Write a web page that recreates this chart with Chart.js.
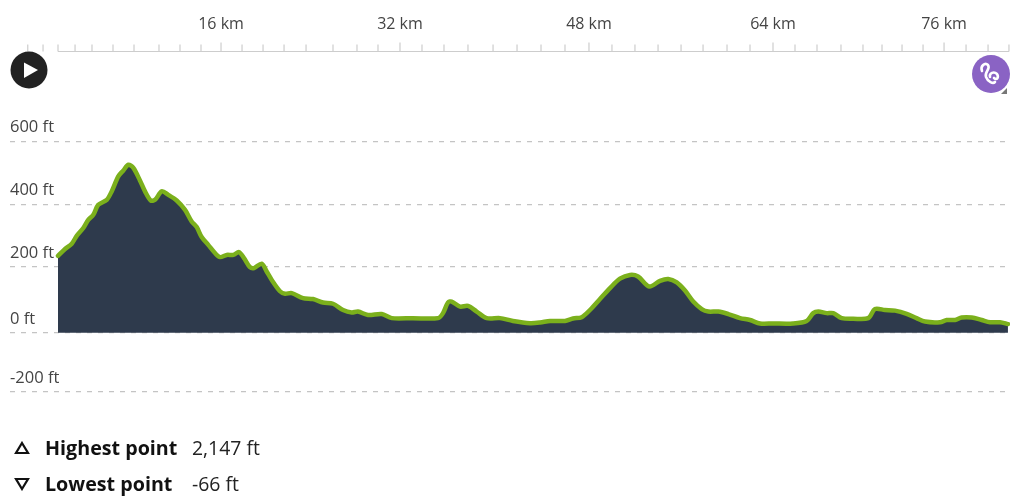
<!DOCTYPE html>
<html>
<head>
<meta charset="utf-8">
<script src="https://cdn.jsdelivr.net/npm/chart.js@4"></script>
<style>
  html, body { margin: 0; padding: 0; background: #fff; }
  body { width: 1024px; height: 502px; position: relative; overflow: hidden; font-family: "Open Sans", sans-serif; color: #222; }
  #chart { position: absolute; left: 0; top: 0; }
  svg { position: absolute; }
  .stat { position: absolute; font-size: 19.4px; line-height: 26px; white-space: nowrap; }
  .stat b { color: #111; font-size: 19.7px; }
</style>
</head>
<body>
<canvas id="chart" width="1024" height="502"></canvas>

<svg style="left:10px;top:51px" width="38" height="38" viewBox="0 0 38 38">
  <circle cx="19" cy="19" r="18.5" fill="#222"/>
  <path d="M14 11.5 L28 19 L14 27 Z" fill="#fff"/>
</svg>
<svg style="left:970px;top:53px" width="40" height="42" viewBox="0 0 40 42">
  <circle cx="21" cy="21" r="19" fill="#8a63c4"/>
  <path d="M12 18 C10 13 15 9 18 12 C21 16 14 19 16 24 C18 29 23 31 25 29 M20 24 C19 20 24 18 27 21 C29 24 27 28 24 25" fill="none" stroke="#fff" stroke-width="2.6" stroke-linecap="round"/>
  <path d="M37 35 L37 41 L31 41 Z" fill="#777"/>
</svg>

<svg style="left:14px;top:441px" width="16" height="14" viewBox="0 0 16 14">
  <path d="M8 2 L14 12 L2 12 Z" fill="none" stroke="#111" stroke-width="2.2"/>
</svg>
<svg style="left:14px;top:477px" width="16" height="14" viewBox="0 0 16 14">
  <path d="M8 12 L14 2 L2 2 Z" fill="none" stroke="#111" stroke-width="2.2"/>
</svg>
<div class="stat" style="left:45px;top:435px"><b>Highest point</b></div>
<div class="stat" style="left:192px;top:435px">2,147 ft</div>
<div class="stat" style="left:45px;top:471px"><b>Lowest point</b></div>
<div class="stat" style="left:192px;top:471px">-66 ft</div>

<script>
const distanceKm = [
  0, 0.64, 1.25, 1.7, 2.3, 2.75, 3.21, 3.66, 4.43, 4.88, 5.48, 5.94, 6.39, 6.85,
  7.45, 7.91, 8.43, 8.82, 9.43, 10.03, 10.79, 11.55, 12.15, 12.61, 13.06, 13.66,
  14.27, 14.73, 15.34, 15.94, 16.45, 16.91, 17.45, 17.82, 18.52, 18.97, 19.43,
  20.18, 20.64, 21.25, 22.27, 23.18, 24.09, 25, 25.91, 26.7, 27.27, 28.18, 29.43,
  30.34, 32.27, 34.55, 35, 35.45, 35.79, 36.55, 37.27, 38.06, 38.97, 40.18, 41.36,
  42.91, 43.82, 44.73, 46.09, 46.82, 47.61, 48.36, 49.27, 50.18, 51.09, 52, 52.73,
  53.75, 54.73, 55.48, 56.25, 57, 57.75, 58.52, 59.12, 60.03, 60.94, 62, 62.91,
  63.82, 65, 66.82, 68.06, 68.66, 69.12, 69.88, 70.48, 71.25, 72.3, 73.66, 74.27,
  75.18, 76.09, 77.15, 78.05, 78.82, 80.18, 80.79, 81.55, 82.15, 83.06, 83.97,
  84.73, 85.64, 86.36,
];

const elevationFt = [
  235, 257, 274, 299, 324, 350, 366, 398, 414, 441, 489, 508, 526, 516,
  476, 441, 412, 414, 441, 430, 412, 382, 345, 327, 295, 270,
  244, 231, 238, 238, 247, 228, 199, 196, 210, 185, 158,
  122, 114, 116, 100, 97, 86, 82, 62, 54, 57, 46, 49,
  36, 36, 36, 52, 86, 89, 73, 75, 57, 36, 36, 27,
  20, 22, 27, 27, 35, 39, 62, 97, 132, 162, 174, 169,
  137, 155, 161, 150, 124, 89, 65, 57, 57, 49, 36, 30,
  19, 19, 19, 27, 52, 57, 52, 52, 36, 34, 36, 65,
  62, 60, 50, 36, 25, 23, 30, 30, 38, 38, 30,
  23, 23, 17,
];

// tick marks on the distance ruler
const rulerKm = [
  -2.75, -1.36, 0, 1.55, 3.09, 5, 6.91, 9.18, 11.09, 13, 14.82, 16.73, 18.64,
  20.55, 22.55, 25, 27.18, 29.09, 31.09, 33.09, 35.09, 37.27, 39.55, 41.73,
  43.91, 46.09, 48.27, 50.36, 52.45, 54.55, 56.64, 58.64, 60.82, 62.91, 65, 67,
  69, 71.18, 73.18, 74.91, 76.73, 78.64, 80.55, 82.55, 84.55, 86.45,
];
const rulerMajorKm = [14.82, 31.09, 48.27, 65, 80.55];
const rulerLabels = ["16 km", "32 km", "48 km", "64 km", "76 km"];

const gridFt = [600, 400, 200, -11, -200];
const gridLabels = ["600 ft", "400 ft", "200 ft", "0 ft", "-200 ft"];

// draws the ruler marks and its line, short ones and taller major ones
const ruler = {
  id: "ruler",
  afterDraw(chart) {
    const x = chart.scales.x;
    const top = chart.chartArea.top;
    const c = chart.ctx;
    c.save();
    c.strokeStyle = "#cdcdcd";
    c.lineWidth = 1.2;
    c.beginPath();
    c.moveTo(x.getPixelForValue(0), top);
    c.lineTo(x.getPixelForValue(86.45), top);
    rulerKm.forEach((km) => {
      const px = x.getPixelForValue(km);
      c.moveTo(px, top);
      c.lineTo(px, top - (rulerMajorKm.includes(km) ? 9 : 7));
    });
    c.stroke();
    c.restore();
  },
};

new Chart(document.getElementById("chart"), {
  type: "line",
  data: {
    datasets: [
      {
        data: distanceKm.map((km, i) => ({ x: km, y: elevationFt[i] })),
        borderColor: "#7bb01c",
        borderWidth: 4.5,
        borderCapStyle: "round",
        backgroundColor: "#2e3a4c",
        fill: { value: -11 },
        tension: 0.3,
        pointRadius: 0,
      },
    ],
  },
  options: {
    responsive: false,
    animation: false,
    layout: { padding: { left: 10, right: 14, top: 0, bottom: 102 } },
    plugins: { legend: { display: false }, tooltip: { enabled: false } },
    scales: {
      x: {
        type: "linear",
        position: "top",
        min: -4.364,
        max: 86.545,
        afterBuildTicks(axis) {
          axis.ticks = rulerMajorKm.map((v) => ({ value: v }));
        },
        afterFit(axis) {
          axis.height = 51.5;
        },
        border: { display: false },
        grid: { display: false, drawTicks: false },
        ticks: {
          autoSkip: false,
          maxRotation: 0,
          padding: 17,
          color: "#444",
          font: { family: "Open Sans", size: 16 },
          callback: (v) => rulerLabels[rulerMajorKm.indexOf(v)],
        },
      },
      y: {
        min: -225.6,
        max: 888,
        afterBuildTicks(axis) {
          axis.ticks = gridFt.map((v) => ({ value: v }));
        },
        afterFit(axis) {
          axis.width = 0;
        },
        border: { display: false, dash: [5, 6] },
        grid: {
          color: "#c4c4c4",
          lineWidth: 1.2,
          drawTicks: false,
        },
        ticks: {
          mirror: true,
          padding: 0,
          labelOffset: -14,
          color: "#444",
          font: { family: "Open Sans", size: 16.5 },
          callback: (v) => gridLabels[gridFt.indexOf(v)],
        },
      },
    },
  },
  plugins: [ruler],
});
</script>
</body>
</html>
